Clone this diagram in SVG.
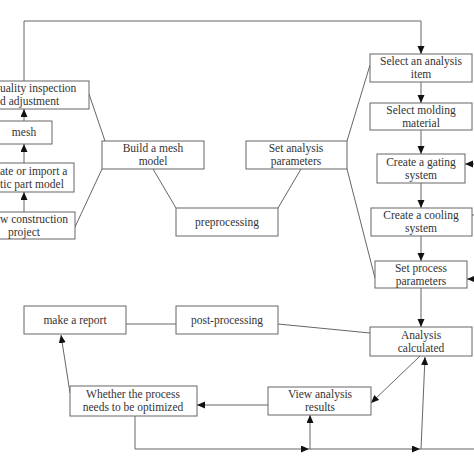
<svg xmlns="http://www.w3.org/2000/svg" width="474" height="474" viewBox="0 0 474 474">
<style>
.box{fill:#fff;stroke:#666;stroke-width:1}
.ln{fill:none;stroke:#666;stroke-width:1}
text{font-family:"Liberation Serif","Times New Roman",serif;font-size:11.5px;fill:#333}
.c{text-anchor:middle}
</style>
<defs>
<marker id="arr" markerUnits="userSpaceOnUse" markerWidth="8" markerHeight="8" refX="8" refY="3.5" orient="auto">
<path d="M0,0 L8,3.5 L0,7 z" fill="#111"/>
</marker>
</defs>
<rect width="474" height="474" fill="#fff"/>
<g id="connectors">
<polyline class="ln" points="24,81 24,21 421,21 421,54" marker-end="url(#arr)"/>
<line class="ln" x1="421" y1="82" x2="421" y2="103" marker-end="url(#arr)"/>
<line class="ln" x1="421" y1="130" x2="421" y2="154" marker-end="url(#arr)"/>
<line class="ln" x1="421" y1="183" x2="421" y2="208" marker-end="url(#arr)"/>
<line class="ln" x1="421" y1="236" x2="421" y2="261" marker-end="url(#arr)"/>
<line class="ln" x1="421" y1="288" x2="421" y2="327" marker-end="url(#arr)"/>
<line class="ln" x1="24" y1="121" x2="24" y2="109" marker-end="url(#arr)"/>
<line class="ln" x1="24" y1="163" x2="24" y2="144" marker-end="url(#arr)"/>
<line class="ln" x1="24" y1="212" x2="24" y2="192" marker-end="url(#arr)"/>
<line class="ln" x1="89" y1="94" x2="105" y2="141"/>
<line class="ln" x1="75" y1="227" x2="102" y2="169"/>
<line class="ln" x1="153" y1="169" x2="176" y2="208"/>
<line class="ln" x1="278" y1="208" x2="301" y2="169"/>
<line class="ln" x1="347" y1="141" x2="370" y2="65"/>
<line class="ln" x1="347" y1="169" x2="375" y2="278"/>
<line class="ln" x1="474" y1="164" x2="465" y2="164" marker-end="url(#arr)"/>
<line class="ln" x1="472" y1="215" x2="474" y2="215"/>
<line class="ln" x1="474" y1="279" x2="467" y2="279" marker-end="url(#arr)"/>
<line class="ln" x1="126" y1="324" x2="176" y2="324"/>
<line class="ln" x1="278" y1="324" x2="370" y2="333"/>
<line class="ln" x1="420" y1="356" x2="371" y2="403" marker-end="url(#arr)"/>
<line class="ln" x1="268" y1="405" x2="197" y2="405" marker-end="url(#arr)"/>
<line class="ln" x1="70" y1="393" x2="61" y2="335" marker-end="url(#arr)"/>
<polyline class="ln" points="135,416 135,449 309,449" marker-end="url(#arr)"/>
<line class="ln" x1="309" y1="449" x2="420" y2="449" marker-end="url(#arr)"/>
<line class="ln" x1="420" y1="449" x2="474" y2="449"/>
<line class="ln" x1="310" y1="449" x2="310" y2="415" marker-end="url(#arr)"/>
<line class="ln" x1="421" y1="449" x2="425" y2="357" marker-end="url(#arr)"/>
</g>
<g id="quality"><rect class="box" x="-10" y="81" width="99" height="28"/><text x="0" y="92">uality inspection</text><text x="0" y="105">d adjustment</text></g>
<g id="mesh"><rect class="box" x="-10" y="121" width="62" height="23"/><text class="c" x="24" y="136">mesh</text></g>
<g id="create"><rect class="box" x="-10" y="163" width="84" height="29"/><text x="0" y="175">ate or import a</text><text x="0" y="188">tic part model</text></g>
<g id="newproj"><rect class="box" x="-10" y="212" width="85" height="27"/><text x="0" y="223">w construction</text><text class="c" x="24" y="236">project</text></g>
<g id="build"><rect class="box" x="102" y="141" width="102" height="28"/><text class="c" x="153" y="152">Build a mesh</text><text class="c" x="153" y="165">model</text></g>
<g id="preprocessing"><rect class="box" x="176" y="208" width="102" height="28"/><text class="c" x="227" y="226">preprocessing</text></g>
<g id="setanalysis"><rect class="box" x="246" y="141" width="101" height="28"/><text class="c" x="296" y="152">Set analysis</text><text class="c" x="296" y="165">parameters</text></g>
<g id="selectitem"><rect class="box" x="370" y="54" width="102" height="28"/><text class="c" x="421" y="65">Select an analysis</text><text class="c" x="421" y="78">item</text></g>
<g id="material"><rect class="box" x="370" y="103" width="102" height="27"/><text class="c" x="421" y="114">Select molding</text><text class="c" x="421" y="127">material</text></g>
<g id="gating"><rect class="box" x="377" y="154" width="88" height="29"/><text class="c" x="421" y="166">Create a gating</text><text class="c" x="421" y="179">system</text></g>
<g id="cooling"><rect class="box" x="371" y="208" width="101" height="28"/><text class="c" x="421" y="219">Create a cooling</text><text class="c" x="421" y="232">system</text></g>
<g id="process"><rect class="box" x="375" y="261" width="92" height="27"/><text class="c" x="421" y="272">Set process</text><text class="c" x="421" y="285">parameters</text></g>
<g id="analysis"><rect class="box" x="370" y="327" width="102" height="29"/><text class="c" x="421" y="339">Analysis</text><text class="c" x="421" y="352">calculated</text></g>
<g id="report"><rect class="box" x="24" y="306" width="102" height="28"/><text class="c" x="75" y="324">make a report</text></g>
<g id="post"><rect class="box" x="176" y="306" width="102" height="28"/><text class="c" x="227" y="324">post-processing</text></g>
<g id="view"><rect class="box" x="268" y="387" width="103" height="28"/><text class="c" x="320" y="398">View analysis</text><text class="c" x="320" y="411">results</text></g>
<g id="whether"><rect class="box" x="70" y="386" width="127" height="30"/><text class="c" x="133" y="398">Whether the process</text><text class="c" x="133" y="411">needs to be optimized</text></g>
</svg>
